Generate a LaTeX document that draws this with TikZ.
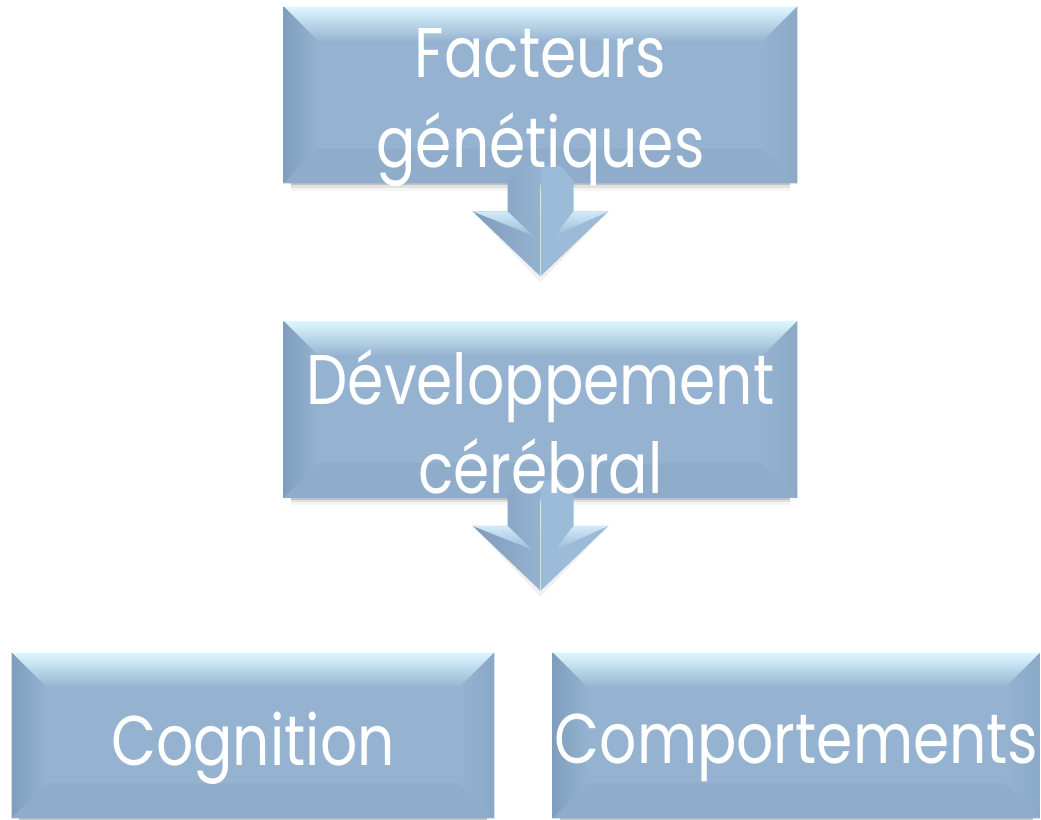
\documentclass[tikz,border=0pt]{standalone}
\usepackage{fontspec}
\setmainfont{Poppins}[FakeStretch=0.83]
\usetikzlibrary{calc,positioning}
\definecolor{boxblue}{HTML}{95B3D1}
\definecolor{bevtop}{HTML}{DDF7FF}
\definecolor{bevleft}{HTML}{7F9EBD}
\definecolor{bevright}{HTML}{8AA9C7}
\definecolor{bevbot}{HTML}{8FADCB}
\definecolor{arrdark}{HTML}{7F9DBB}
\definecolor{arrlight}{HTML}{9CBBD9}
\definecolor{arrfacet}{HTML}{D2EAF8}
\tikzstyle{box} = [rectangle, minimum height=3.52cm, inner sep=0]
\tikzstyle{boxtext} = [text centered, align=center, text=white, inner sep=0, font=\fontsize{40}{51}\selectfont]
\pgfdeclarelayer{bg}
\pgfdeclarelayer{mid}
\pgfsetlayers{bg,mid,main}

% bevelled fill under a named node
\newcommand{\bevelbox}[1]{%
\begin{pgfonlayer}{bg}
\foreach \d/\o in {0.04/0.14,0.09/0.08,0.15/0.04}
  \fill[black,opacity=\o] ($(#1.south west)+(0.15cm,0cm)$) rectangle ($(#1.south east)+(-0.15cm,-\d cm)$);
\fill[boxblue] (#1.north west) rectangle (#1.south east);
\shade[top color=bevtop,bottom color=boxblue] (#1.north west) -- (#1.north east) -- ($(#1.north east)+(-0.7cm,-0.7cm)$) -- ($(#1.north west)+(0.7cm,-0.7cm)$) -- cycle;
\shade[left color=bevleft,right color=boxblue] (#1.north west) -- ($(#1.north west)+(0.7cm,-0.7cm)$) -- ($(#1.south west)+(0.7cm,0.7cm)$) -- (#1.south west) -- cycle;
\shade[left color=boxblue,right color=bevright] (#1.north east) -- ($(#1.north east)+(-0.7cm,-0.7cm)$) -- ($(#1.south east)+(-0.7cm,0.7cm)$) -- (#1.south east) -- cycle;
\fill[bevbot] (#1.south west) -- ($(#1.south west)+(0.7cm,0.7cm)$) -- ($(#1.south east)+(-0.7cm,0.7cm)$) -- (#1.south east) -- cycle;
\end{pgfonlayer}}

% block arrow hanging from the bottom of a named node
\newcommand{\blockarr}[1]{%
\begin{pgfonlayer}{mid}
\begin{scope}[shift={(#1.south)},x=1cm,y=1cm]
\fill[black,opacity=0.06] (-1.3,-0.62) -- (0,-1.98) -- (1.3,-0.62) -- cycle;
\shade[left color=arrdark,right color=boxblue] (0,0.35) -- (-0.4,0.35) -- (-0.66,0.05) -- (-0.66,-0.56) -- (-1.36,-0.56) -- (0,-1.86) -- cycle;
\fill[arrlight] (0,0.35) -- (0.4,0.35) -- (0.66,0.05) -- (0.66,-0.56) -- (1.36,-0.56) -- (0,-1.86) -- cycle;
\shade[top color=arrfacet,bottom color=arrlight] (-1.36,-0.56) -- (-0.66,-0.56) -- (-0.16,-1.04) -- cycle;
\shade[top color=arrfacet,bottom color=arrlight] (1.36,-0.56) -- (0.66,-0.56) -- (0.3,-1.04) -- cycle;
\end{scope}
\end{pgfonlayer}}

\begin{document}
\begin{tikzpicture}[x=0.02cm,y=-0.02cm]
\begin{pgfonlayer}{bg}
\fill[white] (0,0) rectangle (1041,820);
\end{pgfonlayer}
\useasboundingbox (0,0) rectangle (1041,820);

% boxes
\node[box,minimum width=10.26cm] (fact) at (540.5,95) {};
\node[box,minimum width=10.26cm] (dev) at (540.5,409.5) {};
\node[box,minimum width=9.64cm,minimum height=3.3cm] (cogn) at (253,735.5) {};
\node[box,minimum width=9.74cm,minimum height=3.3cm] (comp) at (796.5,735.5) {};

\bevelbox{fact}
\bevelbox{dev}
\bevelbox{cogn}
\bevelbox{comp}
\blockarr{fact}
\blockarr{dev}

% labels
\node[boxtext] (fact-t) at ([yshift=-0.25cm]fact.center) {Facteurs\\génétiques};
\node[boxtext] (dev-t) at ([yshift=-0.25cm]dev.center) {Développement\\cérébral};
\node[boxtext] (cogn-t) at ([yshift=-0.25cm]cogn.center) {Cognition};
\node[boxtext] (comp-t) at ([yshift=-0.25cm]comp.center) {Comportements};
\end{tikzpicture}
\end{document}
